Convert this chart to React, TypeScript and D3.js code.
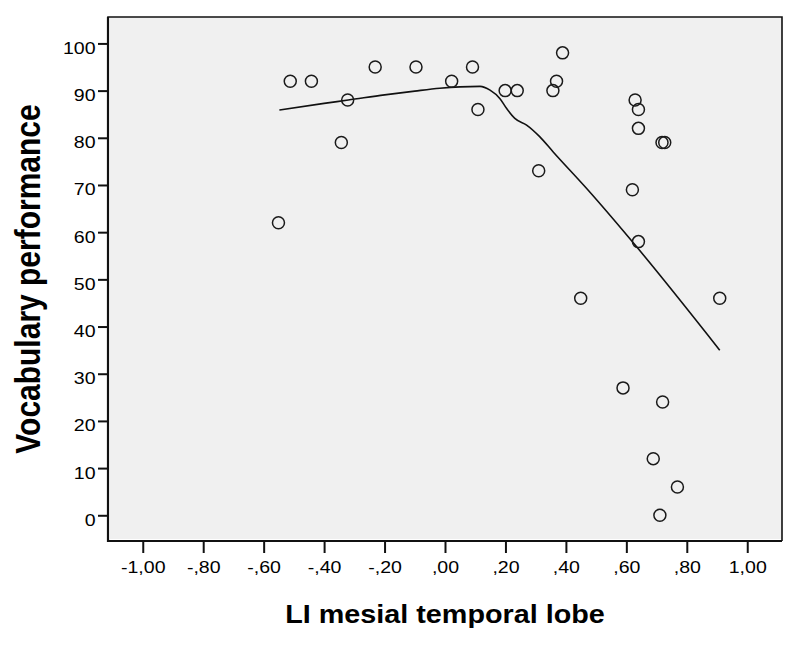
import React, { useEffect, useRef } from "react";
import * as d3 from "d3";

// scatter points: LI mesial temporal lobe vs vocabulary performance
const liValues = [
  -0.551, -0.512, -0.442, -0.343, -0.322, -0.231, -0.096, 0.022, 0.091, 0.109,
  0.199, 0.239, 0.31, 0.357, 0.369, 0.389, 0.449, 0.589, 0.62, 0.629,
  0.64, 0.64, 0.64, 0.718, 0.727, 0.72, 0.689, 0.769, 0.711, 0.909,
];
const vocabValues = [
  62, 92, 92, 79, 88, 95, 95, 92, 95, 86,
  90, 90, 73, 90, 92, 98, 46, 27, 69, 88,
  86, 82, 58, 79, 79, 24, 12, 6, 0, 46,
];

// loess fit line
const fitX = [
  -0.548, -0.4, -0.32, -0.2, -0.1, -0.017, 0.05, 0.116, 0.149, 0.182,
  0.204, 0.231, 0.27, 0.314, 0.358, 0.468, 0.634, 0.909,
];
const fitY = [
  85.9, 87.3, 88.0, 89.1, 89.9, 90.5, 90.8, 90.9, 90.1, 88.3,
  86.2, 84.1, 82.7, 80.2, 77.0, 69.3, 56.9, 35.0,
];

const xTicks = [-1, -0.8, -0.6, -0.4, -0.2, 0, 0.2, 0.4, 0.6, 0.8, 1];
const yTicks = [0, 10, 20, 30, 40, 50, 60, 70, 80, 90, 100];

const xTitle = "LI mesial temporal lobe";
const yTitle = "Vocabulary performance";

// SPSS style: -,80  ,00  1,00
const fmtX = (v: number) => {
  let s = Math.abs(v).toFixed(2).replace(".", ",");
  if (s.startsWith("0")) s = s.slice(1);
  return (v < 0 ? "-" : "") + s;
};

const App = () => {
  const svgRef = useRef<SVGSVGElement>(null);

  useEffect(() => {
    const width = 800;
    const height = 645;
    const margin = { top: 17, right: 18, bottom: 104, left: 108 };
    const stretch = 1.15;

    const svg = d3.select(svgRef.current);
    svg.selectAll("*").remove();
    svg.attr("width", width).attr("height", height);

    const x = d3
      .scaleLinear()
      .domain([-1.115, 1.115])
      .range([margin.left, width - margin.right]);
    const y = d3
      .scaleLinear()
      .domain([-5.45, 105.6])
      .range([height - margin.bottom, margin.top]);

    const left = margin.left;
    const right = width - margin.right;
    const top = margin.top;
    const bottom = height - margin.bottom;

    svg.append("rect").attr("width", width).attr("height", height).attr("fill", "#fff");

    // plot background
    svg
      .append("rect")
      .attr("x", left + 2)
      .attr("y", top)
      .attr("width", right - left - 2)
      .attr("height", bottom - top - 2)
      .attr("fill", "#f0f0f0");

    // frame
    svg
      .append("path")
      .attr("d", `M${left},${bottom}V${top}H${right}V${bottom}`)
      .attr("fill", "none")
      .attr("stroke", "#111")
      .attr("stroke-width", 1.6);
    svg
      .append("path")
      .attr("d", `M${left},${top}V${bottom}H${right}`)
      .attr("fill", "none")
      .attr("stroke", "#111")
      .attr("stroke-width", 2.2);

    const font = "'Liberation Sans', Arial, sans-serif";

    // x axis
    const gx = svg
      .append("g")
      .attr("transform", `translate(0,${bottom})`)
      .call(
        d3
          .axisBottom(x)
          .tickValues(xTicks)
          .tickSize(12)
          .tickSizeOuter(0)
          .tickFormat((d) => fmtX(d as number))
      );
    gx.select(".domain").remove();
    gx.selectAll(".tick line").attr("stroke", "#111").attr("stroke-width", 2);
    gx.selectAll(".tick text")
      .attr("y", 32.5)
      .attr("dy", null)
      .attr("fill", "#000")
      .attr("transform", `scale(${stretch},1)`)
      .style("font-family", font)
      .style("font-size", "17px");

    // y axis
    const gy = svg
      .append("g")
      .attr("transform", `translate(${left},0)`)
      .call(d3.axisLeft(y).tickValues(yTicks).tickSize(10).tickSizeOuter(0));
    gy.select(".domain").remove();
    gy.selectAll(".tick line").attr("stroke", "#111").attr("stroke-width", 2);
    gy.selectAll(".tick text")
      .attr("x", -12.5 / stretch)
      .attr("y", 10)
      .attr("dy", null)
      .attr("fill", "#000")
      .attr("transform", `scale(${stretch},1)`)
      .style("font-family", font)
      .style("font-size", "17px");

    // fit line
    const line = d3
      .line<number>()
      .x((d, i) => x(fitX[i]))
      .y((d) => y(d))
      .curve(d3.curveMonotoneX);
    svg
      .append("path")
      .attr("d", line(fitY))
      .attr("fill", "none")
      .attr("stroke", "#111")
      .attr("stroke-width", 1.6);

    // points
    svg
      .append("g")
      .selectAll("circle")
      .data(liValues)
      .join("circle")
      .attr("cx", (d) => x(d))
      .attr("cy", (d, i) => y(vocabValues[i]))
      .attr("r", 6)
      .attr("fill", "none")
      .attr("stroke", "#1a1a1a")
      .attr("stroke-width", 1.5);

    // titles
    svg
      .append("text")
      .attr("transform", `translate(${(left + right) / 2},623) scale(${stretch},1)`)
      .attr("text-anchor", "middle")
      .attr("fill", "#000")
      .style("font-family", font)
      .style("font-weight", "bold")
      .style("font-size", "25px")
      .text(xTitle);

    svg
      .append("text")
      .attr(
        "transform",
        `translate(40,${(top + bottom) / 2}) scale(${stretch},1) rotate(-90)`
      )
      .attr("text-anchor", "middle")
      .attr("fill", "#000")
      .style("font-family", font)
      .style("font-weight", "bold")
      .style("font-size", "30px")
      .text(yTitle);
  }, []);

  return (
    <svg
      ref={svgRef}
      style={{ position: "absolute", left: 0, top: 0, display: "block" }}
    ></svg>
  );
};

export default App;
